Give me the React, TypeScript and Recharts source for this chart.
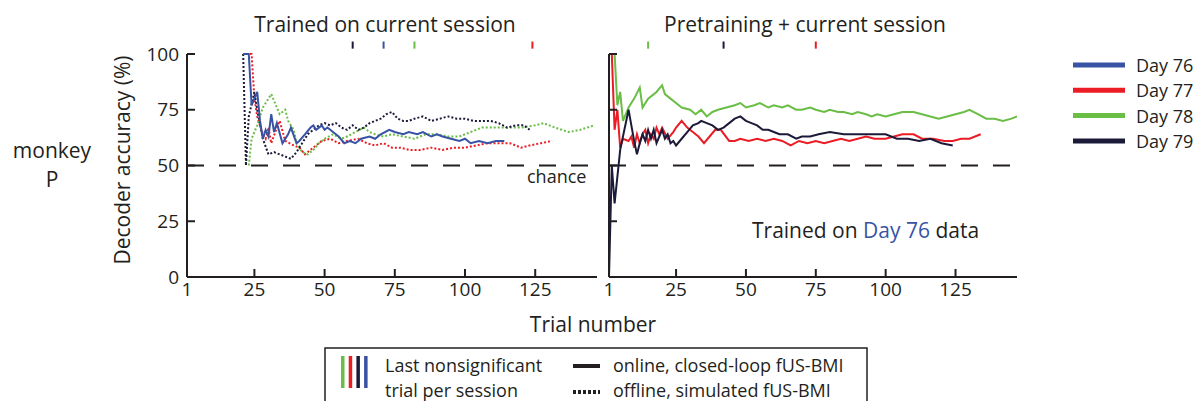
import React from 'react';
import { LineChart, Line, XAxis, YAxis, ReferenceLine } from 'recharts';

const INK = '#231f20';
const BLUE = '#3953a4';
const RED = '#ec1c24';
const GREEN = '#6abd45';
const NAVY = '#1b1a38';
const FONT = '"Open Sans", sans-serif';

const days = ['Day 76', 'Day 77', 'Day 78', 'Day 79'];
const dayColors = [BLUE, RED, GREEN, NAVY];

const xTicks = [1, 25, 50, 75, 100, 125];
const yTicks = [0, 25, 50, 75, 100];
const chance = 50;

// last nonsignificant trial per session (Day 76..79)
const leftLastNonsig = [71, 124, 82, 60];
const rightLastNonsig = [null, 75, 15, 42];

// left panel: trained on current session
const leftD76Trial = [21, 22, 23, 24, 26, 27, 28, 29, 30, 31, 32, 33, 35, 37, 38, 40, 41, 43, 45, 46, 47, 49, 50, 51, 53, 55, 57, 59, 61, 63, 66, 68, 70, 73, 75, 78, 80, 83, 85, 88, 90, 92, 95, 98, 100, 102, 105, 108, 111, 114];
const leftD76Acc = [100, 100, 100, 77, 83, 70, 62, 66, 63, 73, 65, 69, 60, 64, 67, 60, 61, 64, 67, 68, 66, 68, 66, 67, 65, 63, 60, 61, 60, 62, 63, 62, 64, 66, 65, 64, 65, 64, 65, 63, 64, 63, 62, 61, 62, 60, 61, 60, 61, 61];

const leftD77Trial = [22, 23, 24, 25, 26, 28, 29, 30, 31, 33, 34, 36, 39, 41, 43, 45, 47, 49, 52, 55, 58, 62, 65, 68, 71, 74, 77, 80, 84, 88, 92, 96, 100, 104, 108, 112, 116, 120, 123, 127, 131];
const leftD77Acc = [100, 100, 100, 80, 72, 64, 62, 67, 60, 67, 70, 61, 59, 58, 55, 57, 59, 61, 62, 60, 61, 62, 60, 59, 60, 58, 58, 57, 57, 58, 57, 58, 58, 59, 60, 60, 60, 58, 59, 60, 61];

const leftD78Trial = [23, 24, 26, 28, 30, 31, 33, 34, 36, 37, 39, 40, 42, 44, 46, 48, 50, 53, 56, 58, 61, 64, 66, 68, 71, 74, 78, 82, 86, 90, 94, 98, 102, 106, 110, 115, 120, 125, 128, 132, 137, 141, 146];
const leftD78Acc = [50, 62, 68, 76, 80, 82, 76, 73, 75, 70, 66, 60, 56, 55, 57, 60, 62, 64, 62, 63, 65, 67, 65, 64, 63, 64, 63, 62, 64, 64, 63, 63, 65, 67, 67, 67, 67, 68, 69, 67, 65, 66, 68];

const leftD79Trial = [21, 22, 23, 25, 26, 28, 30, 32, 34, 36, 38, 40, 42, 44, 46, 48, 50, 52, 54, 56, 58, 60, 62, 64, 66, 68, 70, 72, 74, 76, 78, 80, 82, 85, 88, 91, 94, 97, 100, 103, 106, 109, 112, 115, 118, 121, 123];
const leftD79Acc = [100, 50, 72, 83, 75, 62, 55, 56, 55, 54, 53, 56, 60, 64, 66, 68, 69, 68, 69, 67, 66, 68, 66, 67, 69, 70, 71, 73, 74, 71, 70, 70, 71, 72, 70, 71, 72, 71, 71, 70, 70, 70, 69, 67, 68, 68, 66];

// right panel: pretraining + current session
const rightD77Trial = [1, 2, 3, 4, 5, 6, 8, 9, 10, 11, 12, 13, 14, 15, 16, 17, 18, 19, 20, 22, 24, 25, 27, 29, 31, 33, 35, 37, 39, 41, 44, 46, 48, 51, 54, 57, 60, 63, 66, 69, 72, 75, 78, 81, 84, 87, 90, 93, 96, 100, 103, 106, 110, 113, 117, 121, 124, 127, 130, 134];
const rightD77Acc = [100, 100, 66, 75, 58, 62, 61, 63, 58, 64, 60, 64, 66, 60, 64, 62, 67, 64, 67, 62, 65, 67, 70, 67, 65, 63, 60, 63, 66, 66, 61, 61, 62, 61, 62, 61, 62, 61, 59, 61, 60, 61, 60, 61, 62, 61, 62, 63, 62, 62, 63, 64, 64, 62, 62, 61, 61, 62, 62, 64];

const rightD78Trial = [1, 2, 3, 4, 5, 6, 7, 8, 10, 12, 13, 15, 18, 20, 21, 23, 25, 27, 30, 32, 34, 36, 38, 40, 43, 46, 48, 50, 53, 55, 58, 60, 63, 65, 68, 70, 73, 75, 78, 80, 83, 85, 88, 90, 93, 95, 97, 100, 103, 106, 110, 113, 116, 119, 122, 125, 128, 130, 133, 136, 139, 142, 145, 147];
const rightD78Acc = [100, 100, 100, 77, 83, 70, 73, 76, 80, 85, 76, 80, 83, 86, 82, 80, 78, 76, 75, 73, 75, 72, 74, 75, 76, 77, 78, 76, 77, 78, 76, 77, 76, 77, 75, 75, 76, 75, 74, 75, 74, 74, 73, 74, 73, 72, 73, 72, 73, 74, 74, 73, 72, 71, 72, 73, 74, 75, 73, 71, 71, 70, 71, 72];

const rightD79Trial = [1, 2, 3, 5, 8, 9, 10, 11, 12, 13, 14, 15, 16, 17, 18, 19, 20, 21, 22, 23, 24, 25, 27, 29, 31, 33, 34, 36, 38, 40, 42, 44, 46, 48, 50, 52, 54, 56, 58, 60, 62, 65, 68, 70, 73, 76, 80, 85, 90, 95, 100, 104, 108, 112, 116, 120, 124];
const rightD79Acc = [0, 50, 33, 57, 75, 68, 61, 55, 60, 64, 61, 66, 62, 66, 60, 63, 66, 62, 64, 60, 61, 59, 62, 65, 68, 69, 70, 69, 68, 66, 67, 69, 71, 72, 70, 69, 68, 66, 66, 65, 64, 64, 62, 63, 63, 64, 65, 64, 64, 64, 64, 62, 62, 61, 62, 60, 59];

const zip = (t: number[], v: number[]) => t.map((x, i) => ({ t: x, v: v[i] }));

type Series = { data: { t: number; v: number }[]; color: string; dotted: boolean };

const leftSeries: Series[] = [
  { data: zip(leftD77Trial, leftD77Acc), color: RED, dotted: true },
  { data: zip(leftD78Trial, leftD78Acc), color: GREEN, dotted: true },
  { data: zip(leftD79Trial, leftD79Acc), color: NAVY, dotted: true },
  { data: zip(leftD76Trial, leftD76Acc), color: BLUE, dotted: false },
];

const rightSeries: Series[] = [
  { data: zip(rightD78Trial, rightD78Acc), color: GREEN, dotted: false },
  { data: zip(rightD77Trial, rightD77Acc), color: RED, dotted: false },
  { data: zip(rightD79Trial, rightD79Acc), color: NAVY, dotted: false },
];

const tickStyle = { fill: INK, fontSize: 19, fontFamily: FONT };
const axisStroke = { stroke: INK, strokeWidth: 2 };

function Panel({ width, marginLeft, marginRight, series, marks, showYLabels }: {
  width: number; marginLeft: number; marginRight: number; series: Series[];
  marks: (number | null)[]; showYLabels: boolean;
}) {
  return (
    <LineChart width={width} height={401} margin={{ top: 54, right: marginRight, bottom: 94, left: marginLeft }}>
      <XAxis type="number" dataKey="t" domain={[1, 147]} ticks={xTicks} interval={0}
        axisLine={axisStroke} tickLine={axisStroke} tickSize={-8} tickMargin={14}
        tick={tickStyle} height={30} allowDataOverflow />
      <YAxis type="number" domain={[0, 100]} ticks={yTicks} interval={0} width={60}
        axisLine={axisStroke} tickLine={axisStroke} tickSize={-8} tickMargin={16}
        tick={tickStyle} tickFormatter={(v) => (showYLabels ? String(v) : '')} />
      <ReferenceLine y={chance} stroke={INK} strokeWidth={2} strokeDasharray="17 15" />
      {marks.map((m, i) =>
        m === null ? null : (
          <ReferenceLine key={i} ifOverflow="visible" stroke={dayColors[i]} strokeWidth={2}
            segment={[{ x: m, y: 102.4 }, { x: m, y: 105.6 }]} />
        )
      )}
      {series.map((s, i) => (
        <Line key={i} data={s.data} dataKey="v" type="linear" stroke={s.color} strokeWidth={2}
          strokeDasharray={s.dotted ? '2 2' : undefined} dot={false} activeDot={false}
          isAnimationActive={false} />
      ))}
    </LineChart>
  );
}

const txt = { fontFamily: FONT, fill: INK };

export default function App() {
  return (
    <div style={{ position: 'absolute', left: 0, top: 0, width: 1199, height: 401, background: '#fff', overflow: 'hidden' }}>
      <div style={{ position: 'absolute', left: 0, top: 0 }}>
        <Panel width={610} marginLeft={127} marginRight={13} series={leftSeries} marks={leftLastNonsig} showYLabels />
      </div>
      <div style={{ position: 'absolute', left: 540, top: 0 }}>
        <Panel width={500} marginLeft={9} marginRight={23} series={rightSeries} marks={rightLastNonsig} showYLabels={false} />
      </div>
      <svg width={1199} height={401} style={{ position: 'absolute', left: 0, top: 0, pointerEvents: 'none' }}>
        <text x={385} y={32} fontSize={21} textAnchor="middle" {...txt}>Trained on current session</text>
        <text x={805} y={32} fontSize={21} textAnchor="middle" {...txt}>Pretraining + current session</text>
        <text x={52} y={158} fontSize={21} textAnchor="middle" {...txt}>monkey</text>
        <text x={52} y={187} fontSize={21} textAnchor="middle" {...txt}>P</text>
        <text transform="translate(130,160) rotate(-90)" fontSize={21} textAnchor="middle" {...txt}>Decoder accuracy (%)</text>
        <text x={593} y={332} fontSize={21} textAnchor="middle" {...txt}>Trial number</text>
        <text x={527} y={183} fontSize={18} {...txt}>chance</text>
        <text x={752} y={238} fontSize={21} {...txt}>
          Trained on <tspan fill={BLUE}>Day 76</tspan> data
        </text>
        {days.map((d, i) => (
          <g key={d}>
            <line x1={1073} x2={1125} y1={65 + i * 25.3} y2={65 + i * 25.3} stroke={dayColors[i]} strokeWidth={5} />
            <text x={1136} y={72 + i * 25.3} fontSize={18} {...txt}>{d}</text>
          </g>
        ))}
        <rect x={325} y={348} width={542} height={70} fill="none" stroke={INK} strokeWidth={1.5} />
        {[GREEN, RED, NAVY, BLUE].map((c, i) => (
          <rect key={i} x={341 + i * 7.7} y={356} width={3.5} height={32} fill={c} />
        ))}
        <text x={385} y={372} fontSize={18} {...txt}>Last nonsignificant</text>
        <text x={385} y={397} fontSize={18} {...txt}>trial per session</text>
        <line x1={573} x2={600} y1={366} y2={366} stroke={INK} strokeWidth={4} />
        <line x1={573} x2={600} y1={392} y2={392} stroke={INK} strokeWidth={4} strokeDasharray="3 2" />
        <text x={613} y={372} fontSize={18} {...txt}>online, closed-loop fUS-BMI</text>
        <text x={613} y={397} fontSize={18} {...txt}>offline, simulated fUS-BMI</text>
      </svg>
    </div>
  );
}
